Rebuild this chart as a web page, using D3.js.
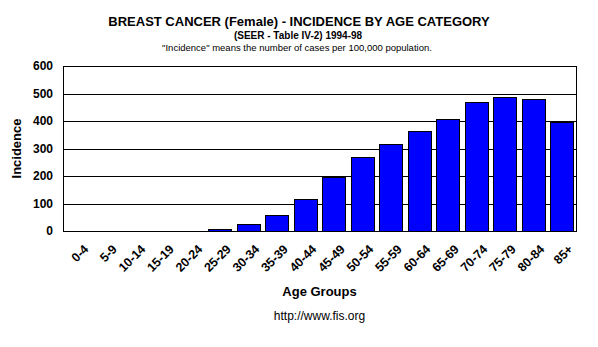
<!DOCTYPE html>
<html><head><meta charset="utf-8">
<script src="https://cdn.jsdelivr.net/npm/d3@7"></script>
<style>
html,body{margin:0;padding:0;background:#fff;}
svg{display:block;font-family:"Liberation Sans",Arial,sans-serif;}
</style></head>
<body>
<svg id="chart" width="598" height="347"></svg>
<script>
const categories = ["0-4","5-9","10-14","15-19","20-24","25-29","30-34","35-39","40-44","45-49","50-54","55-59","60-64","65-69","70-74","75-79","80-84","85+"];
const incidence = [0, 0, 0.2, 0.2, 1.4, 8, 25, 58, 117, 197, 268, 316, 363, 407, 468, 487, 480, 398];
const yTicks = [0, 100, 200, 300, 400, 500, 600];

const svg = d3.select("#chart");
const m = {left: 63, right: 576, top: 66, bottom: 231};

const x = d3.scaleBand().domain(categories).range([m.left, m.right]).paddingInner(0.21).paddingOuter(0.105);
const y = d3.scaleLinear().domain([0, 600]).range([m.bottom, m.top]);

// gridlines
svg.append("g").selectAll("line").data(yTicks).join("line")
  .attr("x1", m.left).attr("x2", m.right)
  .attr("y1", d => Math.round(y(d)) + 0.5).attr("y2", d => Math.round(y(d)) + 0.5)
  .attr("stroke", "#000").attr("stroke-width", 1);

// bars
svg.append("g").selectAll("rect").data(incidence).join("rect")
  .attr("x", (d, i) => Math.round(x(categories[i])) + 0.5)
  .attr("width", Math.round(x.bandwidth()))
  .attr("y", d => Math.round(y(d)) + 0.5)
  .attr("height", d => Math.max(0, Math.round(y(0)) - Math.round(y(d))))
  .attr("fill", "#0000ff").attr("stroke", "#000").attr("stroke-width", 1)
  .attr("display", d => d < 1 ? "none" : null);

// plot frame
svg.append("rect").attr("x", m.left + 0.5).attr("y", Math.round(y(600)) + 0.5)
  .attr("width", m.right - m.left).attr("height", Math.round(y(0)) - Math.round(y(600)))
  .attr("fill", "none").attr("stroke", "#000").attr("stroke-width", 1);

// y axis
const yAxis = d3.axisLeft(y).tickValues(yTicks).tickSize(0).tickPadding(0);
const gy = svg.append("g").attr("transform", `translate(${m.left - 10},0)`).call(yAxis);
gy.select(".domain").remove();
gy.selectAll("text").attr("font-size", 12).attr("font-weight", "bold")
  .attr("font-family", "'Liberation Sans',Arial,sans-serif").attr("fill", "#000");

// x axis
const xAxis = d3.axisBottom(x).tickSize(0).tickPadding(0);
const gx = svg.append("g").attr("transform", `translate(0,${m.bottom})`).call(xAxis);
gx.select(".domain").remove();
gx.selectAll("text")
  .attr("font-size", 12.5).attr("font-weight", "bold")
  .attr("font-family", "'Liberation Sans',Arial,sans-serif").attr("fill", "#000")
  .attr("text-anchor", "end").attr("dy", null).attr("y", 0)
  .attr("transform", "translate(12,19) rotate(-45)");

// titles
svg.append("text").attr("x", 299).attr("y", 26).attr("text-anchor", "middle")
  .attr("font-size", 13).attr("font-weight", "bold")
  .text("BREAST CANCER (Female) - INCIDENCE BY AGE CATEGORY");
svg.append("text").attr("x", 298).attr("y", 39).attr("text-anchor", "middle")
  .attr("font-size", 10).attr("font-weight", "bold")
  .attr("font-family", "'Liberation Sans Narrow','Arial Narrow','Liberation Sans',sans-serif")
  .text("(SEER - Table IV-2) 1994-98");
svg.append("text").attr("x", 297).attr("y", 51).attr("text-anchor", "middle")
  .attr("font-size", 9.5)
  .text("\"Incidence\" means the number of cases per 100,000 population.");

svg.append("text").attr("transform", `translate(21,${(m.top + m.bottom) / 2}) rotate(-90)`)
  .attr("text-anchor", "middle").attr("font-size", 13).attr("font-weight", "bold")
  .text("Incidence");

svg.append("text").attr("x", (m.left + m.right) / 2).attr("y", 296).attr("text-anchor", "middle")
  .attr("font-size", 13).attr("font-weight", "bold").text("Age Groups");
svg.append("text").attr("x", (m.left + m.right) / 2).attr("y", 320).attr("text-anchor", "middle")
  .attr("font-size", 12).text("http://www.fis.org");
</script>
</body></html>
